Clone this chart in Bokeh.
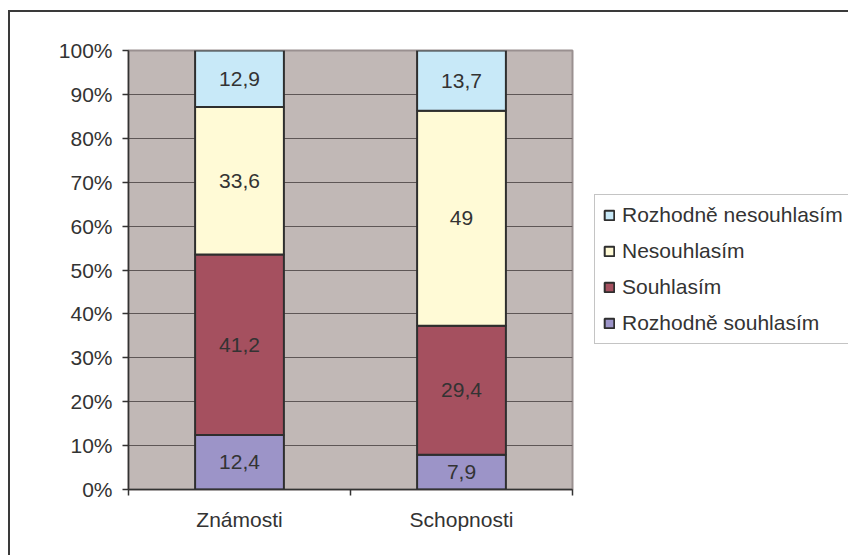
from bokeh.plotting import figure
from bokeh.models import ColumnDataSource, Range1d, FixedTicker, Legend, LegendItem
from bokeh.core.properties import value
from bokeh.embed import file_html
from bokeh.resources import INLINE

categories = ["Známosti", "Schopnosti"]
series_names = ["Rozhodně souhlasím", "Souhlasím", "Nesouhlasím", "Rozhodně nesouhlasím"]
rozhodne_souhlasim = [12.4, 7.9]
souhlasim = [41.2, 29.4]
nesouhlasim = [33.6, 49.0]
rozhodne_nesouhlasim = [12.9, 13.7]
y_ticks = [0, 10, 20, 30, 40, 50, 60, 70, 80, 90, 100]

colors = ["#9C94C8", "#A5505F", "#FFFAD6", "#C8E9F8"]
series = [rozhodne_souhlasim, souhlasim, nesouhlasim, rozhodne_nesouhlasim]

FONT = "Liberation Sans"
TXT = "#333333"
FS = "21px"

p = figure(frame_width=444, frame_height=439, output_backend="svg", toolbar_location=None,
           x_range=Range1d(0, 2), y_range=Range1d(0, 100),
           min_border_left=118, min_border_top=38, min_border_right=276, min_border_bottom=66)
p.margin = (10, 0, 0, 8)
p.styles = {"border-left": "2px solid #3a3a3a", "border-top": "2px solid #3a3a3a"}
p.border_fill_color = "white"
p.background_fill_color = "#C1B8B6"
p.outline_line_color = "#9A9090"
p.outline_line_width = 2

xs = [0.5 + i for i in range(len(categories))]
totals = [sum(s[i] for s in series) for i in range(len(categories))]

renderers = []
bottoms = [0.0] * len(categories)
for name, vals, col in zip(series_names, series, colors):
    pct = [v / t * 100 for v, t in zip(vals, totals)]
    tops = [b + v for b, v in zip(bottoms, pct)]
    src = ColumnDataSource(dict(x=xs, bottom=bottoms, top=tops,
                                mid=[(b + t) / 2 for b, t in zip(bottoms, tops)],
                                lab=[("%g" % v).replace(".", ",") for v in vals]))
    r = p.vbar(x="x", bottom="bottom", top="top", width=0.4, source=src,
               fill_color=col, line_color="#2E2E2E", line_width=2)
    p.text(x="x", y="mid", text="lab", source=src, text_align="center", text_baseline="middle",
           text_font=value(FONT), text_font_size=FS, text_color=TXT)
    renderers.append((name, r))
    bottoms = tops

# axes
p.xaxis.ticker = FixedTicker(ticks=xs, minor_ticks=[0, 1, 2])
p.xaxis.major_label_overrides = {x: c for x, c in zip(xs, categories)}
p.xaxis.major_tick_line_color = None
p.xaxis.major_tick_out = 6
p.xaxis.minor_tick_out = 6
p.xaxis.minor_tick_in = 0
p.xaxis.minor_tick_line_color = "#333333"
p.xaxis.minor_tick_line_width = 1.5
p.xaxis.major_label_standoff = 12

p.yaxis.ticker = FixedTicker(ticks=y_ticks)
p.yaxis.major_label_overrides = {v: f"{v}%" for v in y_ticks}
p.yaxis.minor_tick_line_color = None
p.yaxis.major_tick_out = 6
p.yaxis.major_tick_in = 0
p.yaxis.major_tick_line_color = "#333333"
p.yaxis.major_tick_line_width = 1.5
p.yaxis.major_label_standoff = 10

for ax in (p.xaxis, p.yaxis):
    ax.axis_line_color = "#333333"
    ax.axis_line_width = 1.5
    ax.major_label_text_font = FONT
    ax.major_label_text_font_size = FS
    ax.major_label_text_color = TXT

p.xgrid.grid_line_color = None
p.ygrid.ticker = FixedTicker(ticks=y_ticks)
p.ygrid.grid_line_color = "#5E5656"
p.ygrid.grid_line_width = 1

items = [LegendItem(label=n, renderers=[r]) for n, r in reversed(renderers)]
legend = Legend(items=items, location=(22, 145))
legend.label_text_font = FONT
legend.label_text_font_size = FS
legend.label_text_color = TXT
legend.glyph_width = 12
legend.glyph_height = 12
legend.label_standoff = 7
legend.label_height = 20
legend.spacing = 12
legend.padding = 8
legend.margin = 0
legend.border_line_color = "#8A8A8A"
legend.border_line_width = 1.5
legend.background_fill_color = "white"
p.add_layout(legend, "right")

open("out.html", "w").write(file_html(p, INLINE))
